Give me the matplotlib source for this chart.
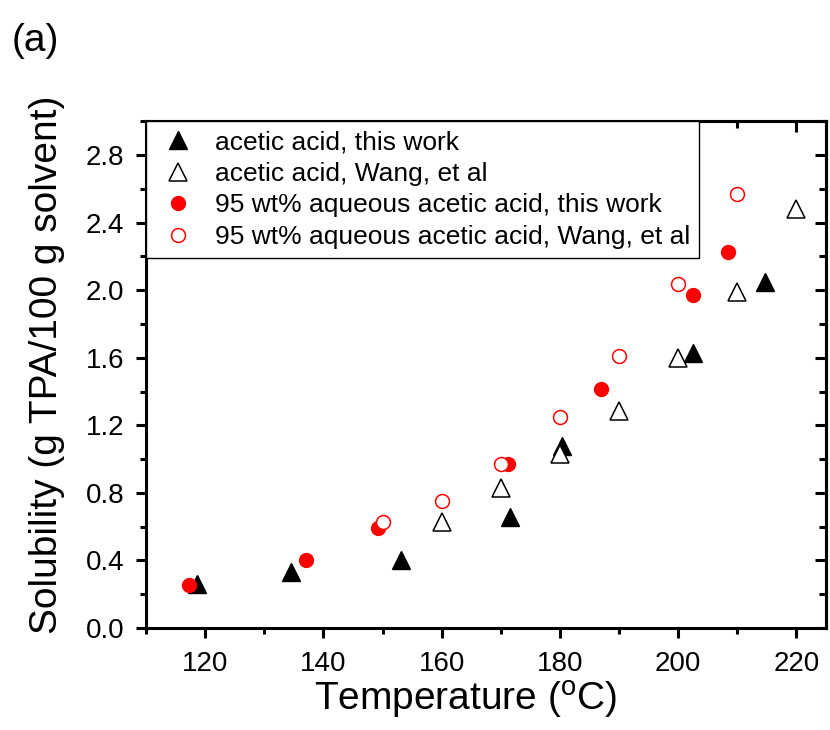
import matplotlib
matplotlib.use('Agg')
import matplotlib.pyplot as plt
from matplotlib.ticker import MultipleLocator, FormatStrFormatter

plt.rcParams['font.family'] = ['Liberation Sans', 'DejaVu Sans']
plt.rcParams['mathtext.fontset'] = 'custom'
plt.rcParams['mathtext.rm'] = 'Liberation Sans'

# Donnees (T en degC, solubilite en g TPA/100 g solvant)
t_acetic_this = [118.6, 134.5, 153.2, 171.5, 180.3, 202.6, 214.7]
s_acetic_this = [0.26, 0.33, 0.405, 0.66, 1.077, 1.628, 2.05]

t_acetic_wang = [160, 170, 180, 190, 200, 210, 220]
s_acetic_wang = [0.626, 0.832, 1.033, 1.285, 1.60, 1.99, 2.48]

t_aq_this = [117.2, 137.0, 149.3, 171.2, 187.0, 202.6, 208.5]
s_aq_this = [0.252, 0.40, 0.593, 0.972, 1.415, 1.974, 2.225]

t_aq_wang = [150, 160, 170, 180, 190, 200, 210]
s_aq_wang = [0.63, 0.75, 0.972, 1.25, 1.61, 2.04, 2.57]

labels = ['acetic acid, this work',
          'acetic acid, Wang, et al',
          '95 wt% aqueous acetic acid, this work',
          '95 wt% aqueous acetic acid, Wang, et al']

fig = plt.figure(figsize=(8.3, 7.3), dpi=100)
ax = fig.add_axes([0.176, 0.1397, 0.819, 0.694])

ax.plot(t_acetic_this, s_acetic_this, linestyle='none', marker='^',
        markersize=13.5, color='black', label=labels[0])
ax.plot(t_acetic_wang, s_acetic_wang, linestyle='none', marker='^',
        markersize=13.5, markerfacecolor='white', markeredgecolor='black',
        markeredgewidth=1.1, label=labels[1])
ax.plot(t_aq_this, s_aq_this, linestyle='none', marker='o',
        markersize=10, color='red', label=labels[2])
ax.plot(t_aq_wang, s_aq_wang, linestyle='none', marker='o',
        markersize=10, markerfacecolor='white', markeredgecolor='red',
        markeredgewidth=1.1, label=labels[3])

ax.set_xlim(110, 225)
ax.set_ylim(0, 3.0)
ax.xaxis.set_major_locator(MultipleLocator(20))
ax.xaxis.set_minor_locator(MultipleLocator(10))
ax.yaxis.set_major_locator(MultipleLocator(0.4))
ax.yaxis.set_minor_locator(MultipleLocator(0.2))
ax.yaxis.set_major_formatter(FormatStrFormatter('%.1f'))

for s in ax.spines.values():
    s.set_linewidth(2.2)

# ticks exterieurs en bas/gauche, interieurs en haut/droite
ax.tick_params(which='both', bottom=True, left=True, top=False, right=False,
               direction='out', width=2.2, labelsize=20)
ax.tick_params(which='major', length=7.5)
ax.tick_params(which='minor', length=4)
ax.tick_params(axis='x', which='major', pad=9)
ax.tick_params(axis='y', which='major', pad=8)

ax_top = ax.secondary_xaxis('top')
ax_top.xaxis.set_major_locator(MultipleLocator(20))
ax_top.xaxis.set_minor_locator(MultipleLocator(10))
ax_top.tick_params(which='both', direction='in', width=2.2, labeltop=False)
ax_top.tick_params(which='major', length=8)
ax_top.tick_params(which='minor', length=5)
ax_top.spines['top'].set_linewidth(2.2)

ax_right = ax.secondary_yaxis('right')
ax_right.yaxis.set_major_locator(MultipleLocator(0.4))
ax_right.yaxis.set_minor_locator(MultipleLocator(0.2))
ax_right.tick_params(which='both', direction='in', width=2.2, labelright=False)
ax_right.tick_params(which='major', length=8)
ax_right.tick_params(which='minor', length=5)
ax_right.spines['right'].set_linewidth(2.2)

ax.set_xlabel('Temperature ($^{\\mathrm{o}}$C)', fontsize=28)
ax.set_ylabel('Solubility (g TPA/100 g solvent)', fontsize=28)
ax.xaxis.set_label_coords(0.47, -0.100)
ax.xaxis.label.set_va('top')
ax.yaxis.set_label_coords(-0.12, 0.52)

leg = ax.legend(loc='upper left', fontsize=19, frameon=True, fancybox=False,
                borderaxespad=0.0, handlelength=1.7, handletextpad=0.55,
                borderpad=0.35, labelspacing=0.28, edgecolor='black',
                framealpha=1.0)
leg.get_frame().set_linewidth(1.0)

fig.text(0.0145, 0.968, '(a)', fontsize=28, ha='left', va='top')

plt.savefig('out.png', dpi=100)
